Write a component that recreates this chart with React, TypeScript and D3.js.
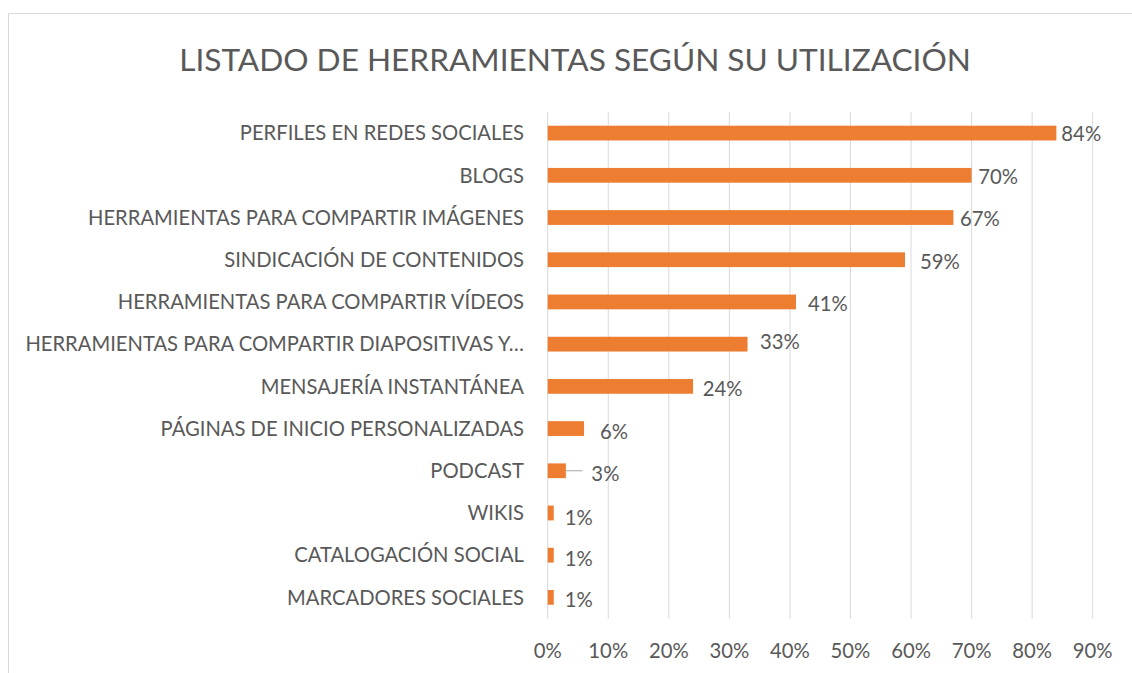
import React from "react";
import * as d3 from "d3";

const categories = [
  "PERFILES EN REDES SOCIALES",
  "BLOGS",
  "HERRAMIENTAS PARA COMPARTIR IMÁGENES",
  "SINDICACIÓN DE CONTENIDOS",
  "HERRAMIENTAS PARA COMPARTIR VÍDEOS",
  "HERRAMIENTAS PARA COMPARTIR DIAPOSITIVAS Y…",
  "MENSAJERÍA INSTANTÁNEA",
  "PÁGINAS DE INICIO PERSONALIZADAS",
  "PODCAST",
  "WIKIS",
  "CATALOGACIÓN SOCIAL",
  "MARCADORES SOCIALES",
];
const values = [84, 70, 67, 59, 41, 33, 24, 6, 3, 1, 1, 1];
const tickValues = [0, 10, 20, 30, 40, 50, 60, 70, 80, 90];
const title = "LISTADO DE HERRAMIENTAS SEGÚN SU UTILIZACIÓN";
// manual data-label offsets (as placed in the original): [dx from bar end, dy from bar centre]
const labelOffsets: [number, number][] = [
  [5, 0.4], [6.7, 1.4], [6.5, 0.8], [15, 2], [12, 2], [12.4, -2.4],
  [9.6, 2], [16, 3.2], [25.5, 2.6], [11, 4.5], [11, 3.2], [11, 2.7],
];
const leaderIndex = 8;

const W = 1132, H = 673;
const FONT = "Lato, 'Open Sans', sans-serif";
const TEXT = "#595959";
const GRID = "#d9d9d9";
const BAR = "#ED7D31";

export default function App() {
  const x = d3.scaleLinear().domain([0, 90]).range([547.7, 1092.7]);
  const y = d3.scaleBand<string>().domain(categories).range([112, 618.5]).paddingInner(0.65).paddingOuter(0.325);
  const bw = y.bandwidth();
  return (
    <svg width={W} height={H} style={{ position: "absolute", left: 0, top: 0, background: "#fff" }} fontFamily={FONT}>
      <rect x={0} y={0} width={W} height={H} fill="#fff" />
      <path d={`M8.5,${H + 2} V13.5 H${W + 2}`} fill="none" stroke={GRID} strokeWidth={1} />
      <text x={575} y={70.5} textAnchor="middle" fontSize={31.6} fill={TEXT}>{title}</text>
      {tickValues.map((t) => (
        <g key={t}>
          <line x1={x(t)} x2={x(t)} y1={112} y2={618.5} stroke={GRID} strokeWidth={1} />
          <text x={x(t)} y={658} textAnchor="middle" fontSize={20.3} fill={TEXT}>{t}%</text>
        </g>
      ))}
      {categories.map((c, i) => {
        const yc = (y(c) as number) + bw / 2;
        const v = values[i];
        const [dx, dy] = labelOffsets[i];
        return (
          <g key={c}>
            <rect x={x(0)} y={y(c)} width={x(v) - x(0)} height={bw} fill={BAR} />
            <text x={524} y={yc + 7.3} textAnchor="end" fontSize={20.2} fill={TEXT}>{c}</text>
            {i === leaderIndex && (
              <line x1={x(v)} x2={x(v) + dx - 9} y1={yc} y2={yc} stroke="#a6a6a6" strokeWidth={1} />
            )}
            <text x={x(v) + dx} y={yc + dy + 7.3} fontSize={20.3} fill={TEXT}>{v}%</text>
          </g>
        );
      })}
    </svg>
  );
}
